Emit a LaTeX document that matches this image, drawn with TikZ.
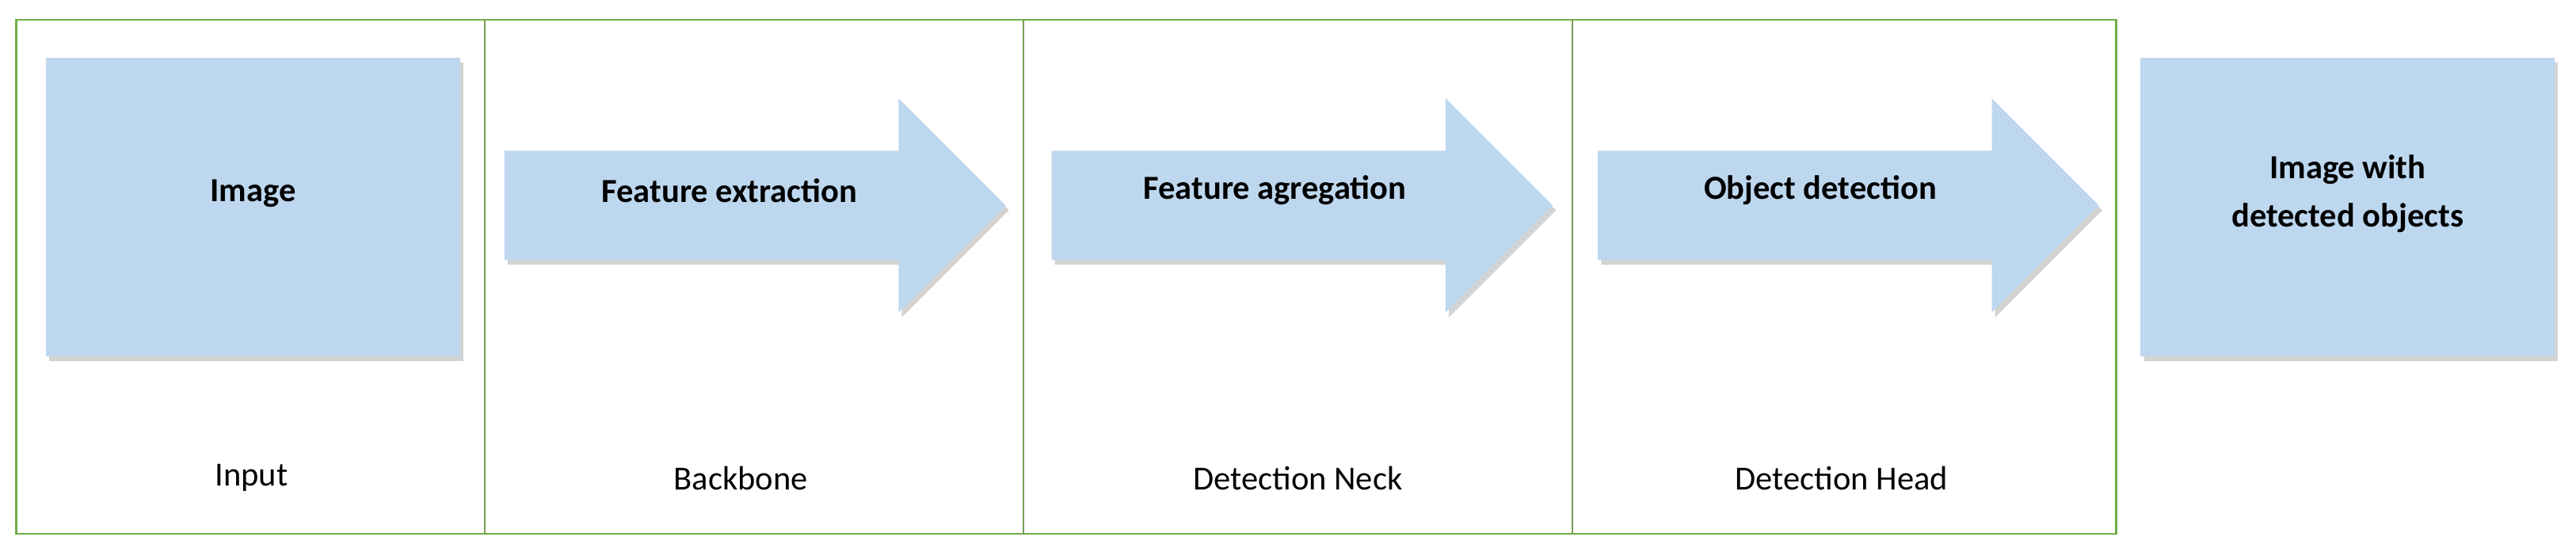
\documentclass[tikz,border=0pt]{standalone}
\usepackage{fontspec}
\setmainfont{Carlito}
\usetikzlibrary{shapes.arrows,shadows,positioning}
\definecolor{boxblue}{RGB}{189,215,238}
\definecolor{frame}{RGB}{112,173,71}
\begin{document}
\begin{tikzpicture}[x=1pt,y=-1pt,
  box/.style={fill=boxblue,draw=none,minimum width=252pt,minimum height=182pt,
    drop shadow={shadow xshift=2pt,shadow yshift=-3pt,opacity=0.35}},
  phase/.style={single arrow,fill=boxblue,draw=none,single arrow head extend=32pt,
    minimum height=305pt,text height=14pt,text depth=4pt,inner ysep=24pt,
    inner xsep=0pt,
    drop shadow={shadow xshift=2pt,shadow yshift=-3pt,opacity=0.35}},
  title/.style={align=center,font=\fontsize{20.5}{29}\selectfont\bfseries},
  stage/.style={font=\fontsize{20.5}{25}\selectfont}]
  \useasboundingbox (0,0) rectangle (1568,338);
  % frame
  \draw[frame,line width=1.2pt] (10,12) rectangle (1288,325);
  \foreach \x in {295,623,957}
    \draw[frame!70!gray,line width=0.8pt] (\x,12) -- (\x,325);
  % boxes
  \node[box] (img) at (154,126) {};
  \node[box] (out) at (1429,126) {};
  \node[title] at (154,118) {Image};
  \node[title] at (1429,118) {Image with\\detected objects};
  % arrows
  \node[phase] (fe) at (443,125) {};
  \node[phase] (fa) at (776,125) {};
  \node[phase] (od) at (1108.5,125) {};
  \node[title] at (444,116) {Feature extraction};
  \node[title] at (776,116) {Feature agregation};
  \node[title] at (1108,116) {Object detection};
  % stage labels
  \node[stage] (in) at (153,291) {Input};
  \node[stage] (bb) at (451,291) {Backbone};
  \node[stage] (nk) at (790,291) {Detection Neck};
  \node[stage] (hd) at (1121,291) {Detection Head};
\end{tikzpicture}
\end{document}
